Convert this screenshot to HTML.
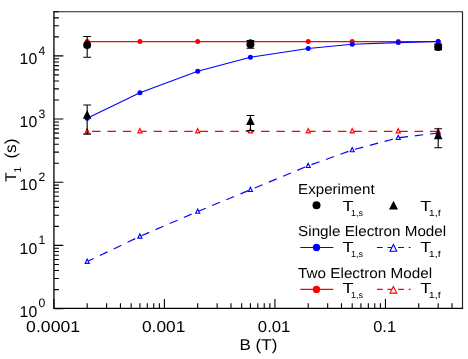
<!DOCTYPE html>
<html><head><meta charset="utf-8"><title>T1 vs B</title>
<style>html,body{margin:0;padding:0;background:#fff;}svg{display:block;will-change:transform;}svg text{text-rendering:geometricPrecision;}</style>
</head><body>
<svg width="468" height="359" viewBox="0 0 468 359">
<rect width="468" height="359" fill="#fff"/>
<path d="M53.95 11.7H462.5V308.45" fill="none" stroke="#222" stroke-width="1.15" stroke-linejoin="round"/>
<path d="M53.95 11.1V308.45H463.1" fill="none" stroke="#000" stroke-width="1.3" stroke-linejoin="miter"/>
<path d="M53.95 308.60h9.4M53.95 289.58h5M53.95 278.46h5M53.95 270.56h5M53.95 264.44h5M53.95 259.44h5M53.95 255.21h5M53.95 251.54h5M53.95 248.31h5M53.95 245.42h9.4M53.95 226.40h5M53.95 215.28h5M53.95 207.38h5M53.95 201.26h5M53.95 196.26h5M53.95 192.03h5M53.95 188.36h5M53.95 185.13h5M53.95 182.24h9.4M53.95 163.22h5M53.95 152.10h5M53.95 144.20h5M53.95 138.08h5M53.95 133.08h5M53.95 128.85h5M53.95 125.18h5M53.95 121.95h5M53.95 119.06h9.4M53.95 100.04h5M53.95 88.92h5M53.95 81.02h5M53.95 74.90h5M53.95 69.90h5M53.95 65.67h5M53.95 62.00h5M53.95 58.77h5M53.95 55.88h9.4M53.95 36.86h5M53.95 25.74h5M53.95 17.84h5M53.95 11.72h5M53.90 308.45v-9.5M87.17 308.45v-5.3M106.63 308.45v-5.3M120.44 308.45v-5.3M131.15 308.45v-5.3M139.90 308.45v-5.3M147.30 308.45v-5.3M153.71 308.45v-5.3M159.36 308.45v-5.3M164.42 308.45v-9.5M197.69 308.45v-5.3M217.15 308.45v-5.3M230.96 308.45v-5.3M241.67 308.45v-5.3M250.42 308.45v-5.3M257.82 308.45v-5.3M264.23 308.45v-5.3M269.88 308.45v-5.3M274.94 308.45v-9.5M308.21 308.45v-5.3M327.67 308.45v-5.3M341.48 308.45v-5.3M352.19 308.45v-5.3M360.94 308.45v-5.3M368.34 308.45v-5.3M374.75 308.45v-5.3M380.40 308.45v-5.3M385.46 308.45v-9.5M418.73 308.45v-5.3M438.19 308.45v-5.3M452.00 308.45v-5.3" stroke="#000" stroke-width="1.1" fill="none"/>
<text x="19.6" y="316.80" font-family="Liberation Sans, sans-serif" font-size="15.6" textLength="17.6" lengthAdjust="spacingAndGlyphs">10</text>
<text x="38.4" y="307.30" font-family="Liberation Sans, sans-serif" font-size="12.2">0</text>
<text x="19.6" y="253.62" font-family="Liberation Sans, sans-serif" font-size="15.6" textLength="17.6" lengthAdjust="spacingAndGlyphs">10</text>
<text x="38.4" y="244.12" font-family="Liberation Sans, sans-serif" font-size="12.2">1</text>
<text x="19.6" y="190.44" font-family="Liberation Sans, sans-serif" font-size="15.6" textLength="17.6" lengthAdjust="spacingAndGlyphs">10</text>
<text x="38.4" y="180.94" font-family="Liberation Sans, sans-serif" font-size="12.2">2</text>
<text x="19.6" y="127.26" font-family="Liberation Sans, sans-serif" font-size="15.6" textLength="17.6" lengthAdjust="spacingAndGlyphs">10</text>
<text x="38.4" y="117.76" font-family="Liberation Sans, sans-serif" font-size="12.2">3</text>
<text x="19.6" y="64.08" font-family="Liberation Sans, sans-serif" font-size="15.6" textLength="17.6" lengthAdjust="spacingAndGlyphs">10</text>
<text x="38.4" y="54.58" font-family="Liberation Sans, sans-serif" font-size="12.2">4</text>
<text x="26.10" y="332" font-family="Liberation Sans, sans-serif" font-size="15.8" textLength="54" lengthAdjust="spacingAndGlyphs">0.0001</text>
<text x="141.97" y="332" font-family="Liberation Sans, sans-serif" font-size="15.8" textLength="43.3" lengthAdjust="spacingAndGlyphs">0.001</text>
<text x="257.84" y="332" font-family="Liberation Sans, sans-serif" font-size="15.8" textLength="32.6" lengthAdjust="spacingAndGlyphs">0.01</text>
<text x="373.26" y="332" font-family="Liberation Sans, sans-serif" font-size="15.8" textLength="22.8" lengthAdjust="spacingAndGlyphs">0.1</text>
<text x="239.5" y="350" font-family="Liberation Sans, sans-serif" font-size="15.5" textLength="37.8" lengthAdjust="spacingAndGlyphs">B (T)</text>
<g transform="translate(16.2,181.8) rotate(-90)"><text x="0" y="0" font-family="Liberation Sans, sans-serif" font-size="15.5">T</text><text x="9.4" y="5.0" font-family="Liberation Sans, sans-serif" font-size="10">1</text><text x="23.2" y="0" font-family="Liberation Sans, sans-serif" font-size="16" textLength="20" lengthAdjust="spacingAndGlyphs">(s)</text></g>
<polyline points="87.17,131.40 139.90,131.40 197.69,131.40 250.42,131.40 308.21,131.40 352.19,131.40 398.24,131.40 438.19,131.40" fill="none" stroke="#f00" stroke-width="1.15" stroke-dasharray="8.5 6.86" stroke-dashoffset="10.46"/>
<polyline points="87.17,261.60 139.90,236.40 197.69,211.50 250.42,189.80 308.21,165.80 352.19,150.00 398.24,137.80 438.19,133.00" fill="none" stroke="#00f" stroke-width="1.15" stroke-dasharray="8.5 6.86" stroke-dashoffset="1.3"/>
<polyline points="87.17,41.60 139.90,41.60 197.69,41.60 250.42,41.60 308.21,41.60 352.19,41.60 398.24,41.60 438.19,41.60" fill="none" stroke="#f00" stroke-width="1.15"/>
<polyline points="87.17,118.30 139.90,92.70 197.69,71.30 250.42,57.30 308.21,48.50 352.19,44.20 398.24,42.60 438.19,41.50" fill="none" stroke="#00f" stroke-width="1.15"/>
<path d="M85.17 132.85L89.17 132.85L87.17 128.65Z" fill="#fff" stroke="#f00" stroke-width="1.15" stroke-linejoin="miter"/>
<path d="M137.90 132.85L141.90 132.85L139.90 128.65Z" fill="#fff" stroke="#f00" stroke-width="1.15" stroke-linejoin="miter"/>
<path d="M195.69 132.85L199.69 132.85L197.69 128.65Z" fill="#fff" stroke="#f00" stroke-width="1.15" stroke-linejoin="miter"/>
<path d="M248.42 132.85L252.42 132.85L250.42 128.65Z" fill="#fff" stroke="#f00" stroke-width="1.15" stroke-linejoin="miter"/>
<path d="M306.21 132.85L310.21 132.85L308.21 128.65Z" fill="#fff" stroke="#f00" stroke-width="1.15" stroke-linejoin="miter"/>
<path d="M350.19 132.85L354.19 132.85L352.19 128.65Z" fill="#fff" stroke="#f00" stroke-width="1.15" stroke-linejoin="miter"/>
<path d="M396.24 132.85L400.24 132.85L398.24 128.65Z" fill="#fff" stroke="#f00" stroke-width="1.15" stroke-linejoin="miter"/>
<path d="M436.19 132.85L440.19 132.85L438.19 128.65Z" fill="#fff" stroke="#f00" stroke-width="1.15" stroke-linejoin="miter"/>
<path d="M85.17 263.30L89.17 263.30L87.17 259.10Z" fill="#fff" stroke="#00f" stroke-width="1.15" stroke-linejoin="miter"/>
<path d="M137.90 238.10L141.90 238.10L139.90 233.90Z" fill="#fff" stroke="#00f" stroke-width="1.15" stroke-linejoin="miter"/>
<path d="M195.69 213.20L199.69 213.20L197.69 209.00Z" fill="#fff" stroke="#00f" stroke-width="1.15" stroke-linejoin="miter"/>
<path d="M248.42 191.50L252.42 191.50L250.42 187.30Z" fill="#fff" stroke="#00f" stroke-width="1.15" stroke-linejoin="miter"/>
<path d="M306.21 167.50L310.21 167.50L308.21 163.30Z" fill="#fff" stroke="#00f" stroke-width="1.15" stroke-linejoin="miter"/>
<path d="M350.19 151.70L354.19 151.70L352.19 147.50Z" fill="#fff" stroke="#00f" stroke-width="1.15" stroke-linejoin="miter"/>
<path d="M396.24 139.50L400.24 139.50L398.24 135.30Z" fill="#fff" stroke="#00f" stroke-width="1.15" stroke-linejoin="miter"/>
<path d="M436.19 134.70L440.19 134.70L438.19 130.50Z" fill="#fff" stroke="#00f" stroke-width="1.15" stroke-linejoin="miter"/>
<circle cx="87.17" cy="41.60" r="2.5" fill="#f00"/>
<circle cx="139.90" cy="41.60" r="2.5" fill="#f00"/>
<circle cx="197.69" cy="41.60" r="2.5" fill="#f00"/>
<circle cx="250.42" cy="41.60" r="2.5" fill="#f00"/>
<circle cx="308.21" cy="41.60" r="2.5" fill="#f00"/>
<circle cx="352.19" cy="41.60" r="2.5" fill="#f00"/>
<circle cx="398.24" cy="41.60" r="2.5" fill="#f00"/>
<circle cx="438.19" cy="41.60" r="2.5" fill="#f00"/>
<circle cx="87.17" cy="118.30" r="2.5" fill="#00f"/>
<circle cx="139.90" cy="92.70" r="2.5" fill="#00f"/>
<circle cx="197.69" cy="71.30" r="2.5" fill="#00f"/>
<circle cx="250.42" cy="57.30" r="2.5" fill="#00f"/>
<circle cx="308.21" cy="48.50" r="2.5" fill="#00f"/>
<circle cx="352.19" cy="44.20" r="2.5" fill="#00f"/>
<circle cx="398.24" cy="42.60" r="2.5" fill="#00f"/>
<circle cx="438.19" cy="41.50" r="2.5" fill="#00f"/>
<path d="M87.17 36.5V57.3M83.27 36.5h7.8M83.27 57.3h7.8" stroke="#000" stroke-width="1.1" fill="none"/>
<path d="M250.42 40.5V48.2M246.52 40.5h7.8M246.52 48.2h7.8" stroke="#000" stroke-width="1.1" fill="none"/>
<path d="M438.19 44.1V49.6M434.29 44.1h7.8M434.29 49.6h7.8" stroke="#000" stroke-width="1.1" fill="none"/>
<circle cx="87.17" cy="44.9" r="4.0" fill="#000"/>
<circle cx="250.42" cy="44.3" r="4.0" fill="#000"/>
<circle cx="438.19" cy="46.9" r="4.0" fill="#000"/>
<path d="M87.17 105V134.1M83.27 105h7.8M83.27 134.1h7.8" stroke="#000" stroke-width="1.1" fill="none"/>
<path d="M250.42 115.5V130.5M246.52 115.5h7.8M246.52 130.5h7.8" stroke="#000" stroke-width="1.1" fill="none"/>
<path d="M438.19 128.7V147.7M434.29 128.7h7.8M434.29 147.7h7.8" stroke="#000" stroke-width="1.1" fill="none"/>
<path d="M82.87 118.80L91.47 118.80L87.17 110.10Z" fill="#000" stroke="none" stroke-width="1.0" stroke-linejoin="miter"/>
<path d="M246.12 125.03L254.72 125.03L250.42 116.23Z" fill="#000" stroke="none" stroke-width="1.0" stroke-linejoin="miter"/>
<path d="M433.89 139.23L442.49 139.23L438.19 130.43Z" fill="#000" stroke="none" stroke-width="1.0" stroke-linejoin="miter"/>
<text x="298.1" y="193.8" font-family="Liberation Sans, sans-serif" font-size="14.5" textLength="76.5" lengthAdjust="spacingAndGlyphs">Experiment</text>
<text x="298.1" y="235.8" font-family="Liberation Sans, sans-serif" font-size="14.5" textLength="148.1" lengthAdjust="spacingAndGlyphs">Single Electron Model</text>
<text x="298.1" y="278.0" font-family="Liberation Sans, sans-serif" font-size="14.5" textLength="134" lengthAdjust="spacingAndGlyphs">Two Electron Model</text>
<circle cx="316.5" cy="205.3" r="4.0" fill="#000"/>
<path d="M389.00 209.53L398.00 209.53L393.50 200.73Z" fill="#000" stroke="none" stroke-width="1.0" stroke-linejoin="miter"/>
<text x="342.5" y="211.0" font-family="Liberation Sans, sans-serif" font-size="14.6" textLength="11" lengthAdjust="spacingAndGlyphs">T</text><g transform="translate(351.10,216.00) scale(0.25)"><text x="0" y="0" font-family="Liberation Sans, sans-serif" font-size="35" textLength="48" lengthAdjust="spacingAndGlyphs">1,s</text></g>
<text x="420.2" y="211.0" font-family="Liberation Sans, sans-serif" font-size="14.6" textLength="11" lengthAdjust="spacingAndGlyphs">T</text><g transform="translate(428.80,216.00) scale(0.25)"><text x="0" y="0" font-family="Liberation Sans, sans-serif" font-size="35" textLength="48" lengthAdjust="spacingAndGlyphs">1,f</text></g>
<path d="M300.3 247.5H333.3" stroke="#00f" stroke-width="1.15"/>
<path d="M376.9 247.5H410.6" stroke="#00f" stroke-width="1.15" stroke-dasharray="5.8 4.8"/>
<circle cx="316.5" cy="247.5" r="3.7" fill="#00f"/>
<path d="M390.00 251.20L396.80 251.20L393.40 244.50Z" fill="#fff" stroke="#00f" stroke-width="1.1" stroke-linejoin="miter"/>
<text x="342.5" y="252.2" font-family="Liberation Sans, sans-serif" font-size="14.6" textLength="11" lengthAdjust="spacingAndGlyphs">T</text><g transform="translate(351.10,257.20) scale(0.25)"><text x="0" y="0" font-family="Liberation Sans, sans-serif" font-size="35" textLength="48" lengthAdjust="spacingAndGlyphs">1,s</text></g>
<text x="420.2" y="252.2" font-family="Liberation Sans, sans-serif" font-size="14.6" textLength="11" lengthAdjust="spacingAndGlyphs">T</text><g transform="translate(428.80,257.20) scale(0.25)"><text x="0" y="0" font-family="Liberation Sans, sans-serif" font-size="35" textLength="48" lengthAdjust="spacingAndGlyphs">1,f</text></g>
<path d="M300.3 289.4H333.3" stroke="#f00" stroke-width="1.15"/>
<path d="M376.9 289.4H410.6" stroke="#f00" stroke-width="1.15" stroke-dasharray="5.8 4.8"/>
<circle cx="316.5" cy="289.4" r="3.7" fill="#f00"/>
<path d="M390.00 293.10L396.80 293.10L393.40 286.40Z" fill="#fff" stroke="#f00" stroke-width="1.1" stroke-linejoin="miter"/>
<text x="342.5" y="293.3" font-family="Liberation Sans, sans-serif" font-size="14.6" textLength="11" lengthAdjust="spacingAndGlyphs">T</text><g transform="translate(351.10,298.30) scale(0.25)"><text x="0" y="0" font-family="Liberation Sans, sans-serif" font-size="35" textLength="48" lengthAdjust="spacingAndGlyphs">1,s</text></g>
<text x="420.2" y="293.3" font-family="Liberation Sans, sans-serif" font-size="14.6" textLength="11" lengthAdjust="spacingAndGlyphs">T</text><g transform="translate(428.80,298.30) scale(0.25)"><text x="0" y="0" font-family="Liberation Sans, sans-serif" font-size="35" textLength="48" lengthAdjust="spacingAndGlyphs">1,f</text></g>
</svg>
</body></html>
